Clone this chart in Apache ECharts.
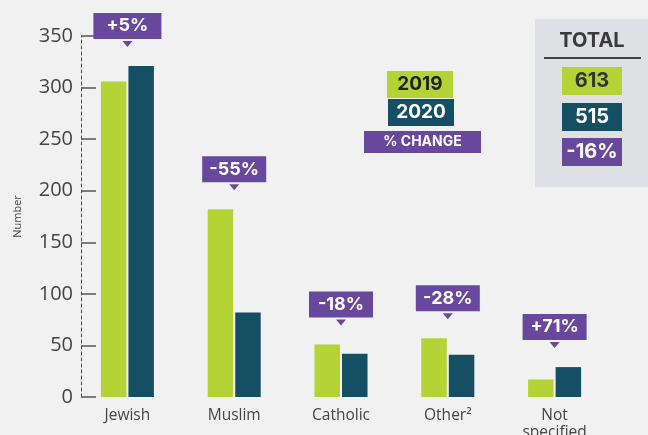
<!DOCTYPE html>
<html>
<head>
<meta charset="utf-8">
<script src="https://cdn.jsdelivr.net/npm/echarts@6/dist/echarts.min.js"></script>
<style>
  html, body { margin: 0; padding: 0; background: #f1f1f1; }
  #chart { width: 648px; height: 435px; }
</style>
</head>
<body>
<div id="chart"></div>
<script>
// data
const categories = ['Jewish', 'Muslim', 'Catholic', 'Other²', 'Not\nspecified'];
const values2019 = [306, 182, 51, 57, 17];
const values2020 = [321, 82, 42, 41, 29];
const seriesNames = ['2019', '2020'];
const yMax = 350;
const yStep = 50;

const LIME = '#b5d334';
const TEAL = '#154f63';
const PURPLE = '#67489d';
const BOLD_FONT = 'Inter';

const pct = (a, b) => {
  const p = Math.round((b / a - 1) * 100);
  return (p > 0 ? '+' : '') + p + '%';
};
const changeLabels = values2019.map((v, i) => pct(v, values2020[i]));
const total2019 = values2019.reduce((s, v) => s + v, 0);
const total2020 = values2020.reduce((s, v) => s + v, 0);

const chart = echarts.init(document.getElementById('chart'));

// purple change callouts above each category
const renderCallout = (params, api) => {
  const pt = api.coord([api.value(0), api.value(1)]);
  const label = changeLabels[params.dataIndex];
  const w = label.length > 3 ? 64 : 68, h = 26;
  const tip = pt[1] - 19;
  const boxBottom = tip - 8;
  return {
    type: 'group',
    children: [
      { type: 'rect', shape: { x: pt[0] - w / 2, y: boxBottom - h, width: w, height: h }, style: { fill: PURPLE } },
      { type: 'polygon', shape: { points: [[pt[0] - 5, tip - 6], [pt[0] + 5, tip - 6], [pt[0], tip]] }, style: { fill: PURPLE } },
      {
        type: 'text',
        style: {
          x: pt[0], y: boxBottom - h / 2, text: label, fill: '#fff',
          font: 'bold 18px ' + BOLD_FONT, align: 'center', verticalAlign: 'middle'
        }
      }
    ]
  };
};

const box = (x, y, w, h, fill, text, color, size) => [
  { type: 'rect', left: x, top: y, shape: { width: w, height: h }, style: { fill: fill } },
  {
    type: 'text', x: x + w / 2, y: y + h / 2,
    style: { text: text, fill: color, font: 'bold ' + size + 'px ' + BOLD_FONT, align: 'center', verticalAlign: 'middle' }
  }
];

const option = {
  backgroundColor: '#f1f1f1',
  animation: false,
  grid: { left: 74, right: 40, top: 36, bottom: 38, containLabel: false, outerBoundsMode: 'none' },
  xAxis: {
    type: 'category',
    data: categories,
    axisLine: { show: false },
    axisTick: { show: false },
    axisLabel: {
      interval: 0, margin: 10, fontSize: 15.5, lineHeight: 17,
      color: '#444', fontFamily: 'Open Sans'
    }
  },
  yAxis: {
    type: 'value',
    min: 0, max: yMax, interval: yStep,
    offset: -7,
    name: 'Number',
    nameLocation: 'middle',
    nameGap: 58,
    nameTextStyle: { fontSize: 11, color: '#444', fontFamily: 'Open Sans' },
    axisLine: { show: true, lineStyle: { color: '#444', type: [3, 3], width: 1 } },
    axisTick: { show: true, inside: true, length: 15, lineStyle: { color: '#555', width: 1.5 } },
    axisLabel: { fontSize: 20, color: '#444', margin: 8, fontFamily: 'Open Sans' },
    splitLine: { show: false }
  },
  series: [
    { name: seriesNames[0], type: 'bar', data: values2019, barWidth: 25.5, barGap: '8%', itemStyle: { color: LIME } },
    { name: seriesNames[1], type: 'bar', data: values2020, barWidth: 25.5, itemStyle: { color: TEAL } },
    {
      type: 'custom',
      renderItem: renderCallout,
      clip: false,
      silent: true,
      data: categories.map((c, i) => [i, Math.max(values2019[i], values2020[i])]),
      z: 5
    }
  ],
  graphic: [
    // legend
    ...box(387, 71, 66, 27, LIME, seriesNames[0], '#222', 19),
    ...box(388, 99, 66, 27, TEAL, seriesNames[1], '#fff', 19),
    ...box(364, 131, 117, 22, PURPLE, '% CHANGE', '#fff', 14),
    // totals panel
    { type: 'rect', left: 535, top: 19, shape: { width: 120, height: 168 }, style: { fill: '#dfe0e4' } },
    {
      type: 'text', x: 592, y: 41,
      style: { text: 'TOTAL', fill: '#3a3a3a', font: 'bold 20px ' + BOLD_FONT, align: 'center', verticalAlign: 'middle' }
    },
    { type: 'line', shape: { x1: 544, y1: 58, x2: 641, y2: 58 }, style: { stroke: '#444', lineWidth: 2 } },
    ...box(562, 67, 60, 28, LIME, String(total2019), '#333', 20),
    ...box(562, 103, 60, 28, TEAL, String(total2020), '#fff', 20),
    ...box(562, 138, 60, 28, PURPLE, pct(total2019, total2020), '#fff', 20)
  ]
};

chart.setOption(option);
</script>
</body>
</html>
